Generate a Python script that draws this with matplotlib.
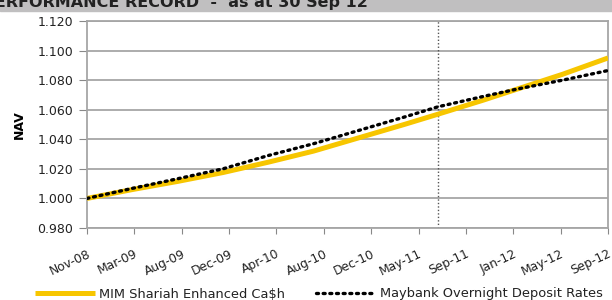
import numpy as np
import matplotlib
matplotlib.use('Agg')
import matplotlib.pyplot as plt
from matplotlib.patches import Rectangle

# months since Nov-08
months = [0, 4, 8, 12, 16, 20, 24, 28, 31, 35, 38, 42, 46]
mim_nav = [1.000, 1.006, 1.0115, 1.0175, 1.0245, 1.032, 1.041, 1.050, 1.057, 1.0665, 1.074, 1.084, 1.095]
maybank = [1.000, 1.0068, 1.0133, 1.020, 1.029, 1.037, 1.046, 1.055, 1.062, 1.069, 1.074, 1.080, 1.0865]

tick_labels = ['Nov-08', 'Mar-09', 'Aug-09', 'Dec-09', 'Apr-10', 'Aug-10',
               'Dec-10', 'May-11', 'Sep-11', 'Jan-12', 'May-12', 'Sep-12']
marker_month = 31

plt.rcParams['font.family'] = ['DejaVu Sans']

fig = plt.figure(figsize=(6.12, 3.0), dpi=100)

# grey header band (cut off at top)
fig.patches.append(Rectangle((0, 0.965), 1, 0.035, transform=fig.transFigure,
                             color='#c0bfc0', zorder=0))
fig.text(-0.027, 0.977, 'PERFORMANCE RECORD  -  as at 30 Sep 12', fontsize=11.5,
         fontweight='bold', color='#222222', va='baseline', ha='left')

ax = fig.add_axes([87 / 612, 0.24, 521 / 612, 0.69])

ax.plot(months, mim_nav, color='#f7c600', lw=3.6, solid_capstyle='butt', zorder=3,
        label='MIM Shariah Enhanced Ca\\$h')
ax.plot(months, maybank, color='black', lw=2.4, ls=(0, (0.6, 1.4)),
        dash_capstyle='round', zorder=4, label='Maybank Overnight Deposit Rates')
ax.axvline(marker_month, color='#555555', lw=1.0, ls=(0, (1, 1.5)), zorder=2)

yt = np.arange(0.98, 1.1201, 0.02)
ax.set_xlim(0, 46)
ax.set_ylim(0.980, 1.120)
ax.set_yticks(yt)
ax.set_yticklabels(['%.3f' % v for v in yt], fontsize=9, color='#222222')
ax.set_xticks(np.linspace(0, 46, 12))
ax.set_xticklabels(tick_labels, rotation=25, fontsize=8.8, color='#222222',
                   ha='right', va='top', rotation_mode='anchor')
ax.tick_params(axis='x', length=4, color='#888888', pad=10)
ax.tick_params(axis='y', length=6, color='#888888', pad=4)

ax.grid(axis='y', color='#a6a6a6', lw=1.3)
ax.set_axisbelow(True)
for s in ax.spines.values():
    s.set_color('#a6a6a6')
    s.set_linewidth(1.3)

ax.set_ylabel('NAV', fontsize=9, fontweight='bold', labelpad=8)

fig.legend(loc='center left', bbox_to_anchor=(35 / 612, 1 - 294 / 300), ncol=2,
           frameon=False, fontsize=9.4, handlelength=4.6, columnspacing=2.4,
           handletextpad=0.3, borderpad=0, borderaxespad=0, labelcolor='#222222')

fig.savefig('out.png', dpi=100)
